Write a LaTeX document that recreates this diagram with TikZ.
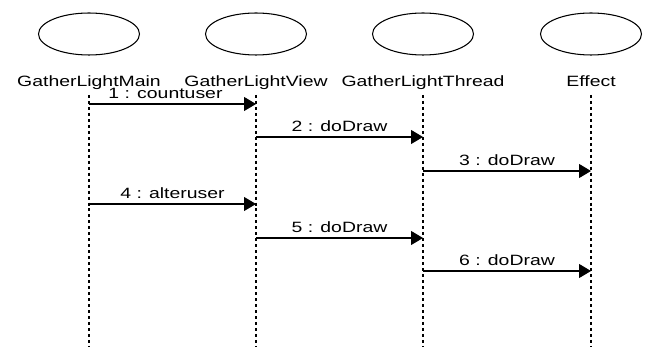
\documentclass[tikz,border=0pt]{standalone}
\usepackage{fontspec}
\setmainfont{Liberation Sans}[FakeStretch=1.3]
\usetikzlibrary{shapes.geometric,arrows.meta}

\begin{document}
\begin{tikzpicture}[x=0.02cm, y=-0.02cm, font=\fontsize{8.5}{10}\selectfont,
		obj/.style = {draw, ellipse, line width=0.6pt, minimum width=2.02cm, minimum height=0.84cm},
		objname/.style = {anchor=base},
		life/.style = {line width=0.6pt, dash pattern=on 1.7pt off 1.7pt},
		msg/.style = {line width=0.6pt, -{Triangle[length=0.24cm, width=0.28cm]}},
		lbl/.style = {above, inner sep=0pt, yshift=3pt}]
		\useasboundingbox (0,0) rectangle (648,347);
		\node[obj] (1) at (89,34) {};
		\node[obj] (2) at (256,34) {};
		\node[obj] (3) at (423,34) {};
		\node[obj] (4) at (591,34) {};
		\node[objname] (n1) at (89,87) {GatherLightMain};
		\node[objname] (n2) at (256,87) {GatherLightView};
		\node[objname] (n3) at (423,87) {GatherLightThread};
		\node[objname] (n4) at (591,87) {Effect};
		% lifelines
		\coordinate (t) at (0,95);
		\coordinate (b) at (0,347);
		\draw[life] (n1 |- t) -- (n1 |- b);
		\draw[life] (n2 |- t) -- (n2 |- b);
		\draw[life] (n3 |- t) -- (n3 |- b);
		\draw[life] (n4 |- t) -- (n4 |- b);
		% messages
		\coordinate (m1) at (0,104);
		\coordinate (m2) at (0,137);
		\coordinate (m3) at (0,171);
		\coordinate (m4) at (0,204);
		\coordinate (m5) at (0,238);
		\coordinate (m6) at (0,271);
		\draw[msg] (n1 |- m1) -- (n2 |- m1) node[lbl, midway, xshift=-4pt] {1 : countuser};
		\draw[msg] (n2 |- m2) -- (n3 |- m2) node[lbl, midway] {2 : doDraw};
		\draw[msg] (n3 |- m3) -- (n4 |- m3) node[lbl, midway] {3 : doDraw};
		\draw[msg] (n1 |- m4) -- (n2 |- m4) node[lbl, midway] {4 : alteruser};
		\draw[msg] (n2 |- m5) -- (n3 |- m5) node[lbl, midway] {5 : doDraw};
		\draw[msg] (n3 |- m6) -- (n4 |- m6) node[lbl, midway] {6 : doDraw};
\end{tikzpicture}
\end{document}
